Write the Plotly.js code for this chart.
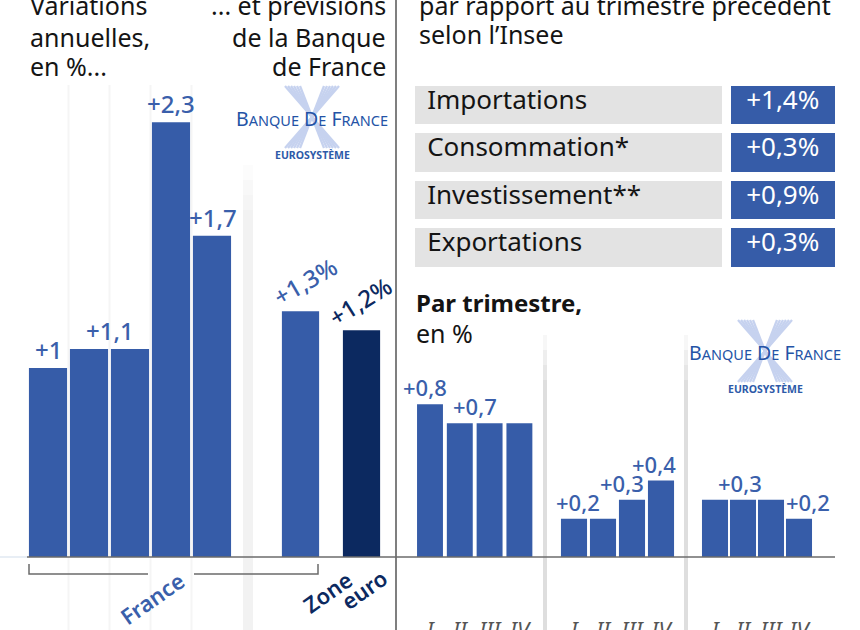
<!DOCTYPE html>
<html><head><meta charset="utf-8">
<script src="https://cdn.plot.ly/plotly-3.0.1.min.js"></script>
<style>html,body{margin:0;padding:0;background:#fff;} #chart{width:860px;height:630px;}</style>
</head><body><div id="chart"></div>
<script>
// ---------- data ----------
const histYears = ['2014', '2015', '2016', '2017', '2018'];
const histValues = [1.0, 1.1, 1.1, 2.3, 1.7];
const forecastCats = ['France', 'Zone euro'];
const forecastValues = [1.3, 1.2];
const quarters = ['I', 'II', 'III', 'IV'];
const qYear1 = [0.8, 0.7, 0.7, 0.7];
const qYear2 = [0.2, 0.2, 0.3, 0.4];
const qYear3 = [0.3, 0.3, 0.3, 0.2];
const components = ['Importations', 'Consommation*', 'Investissement**', 'Exportations'];
const componentChanges = ['+1,4%', '+0,3%', '+0,9%', '+0,3%'];

// ---------- style ----------
const FONT = '"Noto Sans", "Open Sans", sans-serif';
const BLUE = '#365ca8';
const NAVY = '#0c2960';
const LBLUE = '#3a5fab';
const GREY = '#e3e3e3';
const W = 860, H = 630;
const X = p => p / W;
const Y = p => 1 - p / H;
const yDom = [Y(557), 1];

const labelCells = components.map(c => '\u2006\u2006' + c);
const tableStyle = {
  height: 47.5,
  fill: {color: [GREY, BLUE]}, line: {color: 'white', width: 9},
  align: ['left', 'center'],
  font: {family: FONT, size: 26, color: ['#141414', '#ffffff']}
};

const traces = [
  {type: 'bar', x: histYears, y: histValues, xaxis: 'x', yaxis: 'y', width: 0.93, marker: {color: BLUE}},
  {type: 'bar', x: forecastCats, y: forecastValues, xaxis: 'x2', yaxis: 'y', width: 0.61, marker: {color: [BLUE, NAVY]}},
  {type: 'bar', x: quarters, y: qYear1, xaxis: 'x3', yaxis: 'y2', width: 0.87, marker: {color: BLUE}},
  {type: 'bar', x: quarters, y: qYear2, xaxis: 'x4', yaxis: 'y2', width: 0.9, marker: {color: BLUE}},
  {type: 'bar', x: quarters, y: qYear3, xaxis: 'x5', yaxis: 'y2', width: 0.93, marker: {color: BLUE}},
  {type: 'table', domain: {x: [X(410.5), X(839.5)], y: [Y(271), Y(81)]},
   columnwidth: [315.5, 113.5],
   header: Object.assign({values: [[labelCells[0]], [componentChanges[0]]]}, tableStyle),
   cells: Object.assign({values: [labelCells.slice(1), componentChanges.slice(1)]}, tableStyle)}
];

function catX(dom, cats, anchor, showTicks) {
  return {domain: dom, type: 'category', categoryorder: 'array', categoryarray: cats,
    range: [-0.5, cats.length - 0.5], anchor: anchor,
    showgrid: false, zeroline: false, showline: false, ticks: '',
    tickmode: 'array', tickvals: cats, ticktext: cats,
    showticklabels: !!showTicks, fixedrange: true,
    tickfont: {family: FONT, size: 22, color: '#555', style: 'italic'},
    ticklabelstandoff: 58};
}

const layout = {
  width: W, height: H, margin: {l: 0, r: 0, t: 0, b: 0},
  paper_bgcolor: '#fff', plot_bgcolor: 'rgba(0,0,0,0)', showlegend: false,
  font: {family: FONT},
  xaxis: catX([X(27.5), X(232.5)], histYears, 'y', false),
  xaxis2: catX([X(270), X(392)], forecastCats, 'y', false),
  xaxis3: catX([X(415.1), X(534.3)], quarters, 'y2', true),
  xaxis4: catX([X(559.5), X(675.5)], quarters, 'y2', true),
  xaxis5: catX([X(701), X(813)], quarters, 'y2', true),
  yaxis: {domain: yDom, range: [0, 557 / 189], visible: false, fixedrange: true, anchor: 'x'},
  yaxis2: {domain: yDom, range: [0, 557 / 191], visible: false, fixedrange: true, anchor: 'x3'},
  shapes: [],
  annotations: []
};
const S = layout.shapes, A = layout.annotations;

// background bands / gridlines
function fadeBand(x0, x1, yTop, color) {
  const steps = [[yTop, 0.25], [yTop + 15, 0.5], [yTop + 30, 0.75], [yTop + 45, 1]];
  steps.forEach((s, i) => {
    const yEnd = i < 3 ? steps[i + 1][0] : 630;
    S.push({type: 'rect', xref: 'paper', yref: 'paper', x0: X(x0), x1: X(x1), y0: Y(yEnd), y1: Y(s[0]),
      fillcolor: color, opacity: s[1], line: {width: 0}, layer: 'below'});
  });
}
[0.5, 1.5, 2.5, 3.5].forEach(b => S.push({type: 'line', xref: 'x', yref: 'paper', x0: b, x1: b,
  y0: 0, y1: Y(85), line: {color: '#f5f5f5', width: 2}, layer: 'below'}));
fadeBand(243, 253, 165, '#f2f2f2');
fadeBand(543, 547, 335, '#dedede');
fadeBand(684, 688, 335, '#dedede');

// divider & baselines
const pline = (x0, y0, x1, y1, color, w) => S.push({type: 'line', xref: 'paper', yref: 'paper',
  x0: X(x0), x1: X(x1), y0: Y(y0), y1: Y(y1), line: {color: color, width: w}});
pline(396, 0, 396, 630, '#555', 1.5);
pline(0, 557, 27, 557, '#e1e9f2', 1.5);
pline(27, 557, 396, 557, '#6b6b6b', 1.5);
pline(396, 557, 835, 557, '#6b6b6b', 1.5);
// bracket France
S.push({type: 'path', xref: 'paper', yref: 'paper',
  path: `M${X(29)},${Y(564)} L${X(29)},${Y(574)} L${X(148)},${Y(574)}`, line: {color: '#6b6b6b', width: 1.5}});
S.push({type: 'path', xref: 'paper', yref: 'paper',
  path: `M${X(194)},${Y(574)} L${X(318)},${Y(574)} L${X(318)},${Y(564)}`, line: {color: '#6b6b6b', width: 1.5}});

// text helper
const txt = (x, y, text, opts) => A.push(Object.assign({xref: 'paper', yref: 'paper', x: X(x), y: Y(y),
  xanchor: 'center', yanchor: 'middle', showarrow: false, text: text,
  font: {family: FONT, size: 25, color: '#141414'}}, opts));

// logos
function logo(cx, cy) {
  const col = '#c6d2ef';
  for (let k = 0; k < 6; k++) {
    const d = 27 - 3 * k;
    pline(cx - d, cy - 31, cx + d, cy + 31, col, 2.3);
    pline(cx + d, cy - 31, cx - d, cy + 31, col, 2.3);
  }
  const sc = t => `<span style="font-size:14.5px">${t}</span>`;
  txt(cx, cy + 1, `B${sc('ANQUE')} D${sc('E')} F${sc('RANCE')}`,
    {font: {family: FONT, size: 19.5, color: '#2453a6'}});
  txt(cx, cy + 38, '<b>EUROSYSTÈME</b>', {font: {family: FONT, size: 10.5, color: '#2d5aa8'}});
}
logo(312, 117);
logo(765, 351);

// headings (one annotation per line to keep the tight line spacing)
[['Variations', 5.5], ['annuelles,', 36.5], ['en %...', 66.5]].forEach(l =>
  txt(28, l[1], l[0], {xanchor: 'left'}));
[['... et prévisions', 5.5], ['de la Banque', 36.5], ['de France', 66.5]].forEach(l =>
  txt(388, l[1], l[0], {xanchor: 'right'}));
[['par rapport au trimestre précédent', 5.5], ['selon l’Insee', 34]].forEach(l =>
  txt(417, l[1], l[0], {xanchor: 'left'}));
txt(414, 302, '<b>Par trimestre,</b>', {xanchor: 'left', font: {family: FONT, size: 24, color: '#141414'}});
txt(414, 333, 'en %', {xanchor: 'left'});

const catFont = c => ({family: FONT, size: 22, color: c, weight: 600});
txt(152, 598, 'France', {textangle: -35, font: catFont(LBLUE)});
txt(327, 592, 'Zone', {textangle: -35, font: catFont(NAVY)});
txt(364, 589, 'euro', {textangle: -35, font: catFont(NAVY)});

// bar value labels
const vl = (xref, yref, x, y, text, xs, col, extra, size) => A.push(Object.assign({xref: xref, yref: yref, x: x, y: y,
  text: text, showarrow: false, xanchor: 'center', yanchor: 'bottom', xshift: xs || 0, yshift: 0,
  font: {family: FONT, size: size || 24, color: col || LBLUE, weight: 500}}, extra));
vl('x', 'y', 0, histValues[0], '+1');
vl('x', 'y', 1.5, histValues[1], '+1,1');
vl('x', 'y', 3, histValues[3], '+2,3');
vl('x', 'y', 4, histValues[4], '+1,7', 1);
vl('x2', 'y', 0, forecastValues[0], '+1,3%', 4, LBLUE, {textangle: -30, yshift: -4});
vl('x2', 'y', 1, forecastValues[1], '+1,2%', -2, NAVY, {textangle: -32, yshift: -6});

vl('x3', 'y2', 0, qYear1[0], '+0,8', -5, LBLUE, {}, 22);
vl('x3', 'y2', 1.5, qYear1[1], '+0,7', 0, LBLUE, {}, 22);
vl('x4', 'y2', 0, qYear2[0], '+0,2', 4, LBLUE, {}, 22);
vl('x4', 'y2', 2, qYear2[2], '+0,3', -10, LBLUE, {}, 22);
vl('x4', 'y2', 3, qYear2[3], '+0,4', -7, LBLUE, {}, 22);
vl('x5', 'y2', 1, qYear3[1], '+0,3', -3, LBLUE, {}, 22);
vl('x5', 'y2', 3, qYear3[3], '+0,2', 9, LBLUE, {}, 22);

Plotly.newPlot('chart', traces, layout, {displayModeBar: false, staticPlot: true});
</script>
</body></html>
